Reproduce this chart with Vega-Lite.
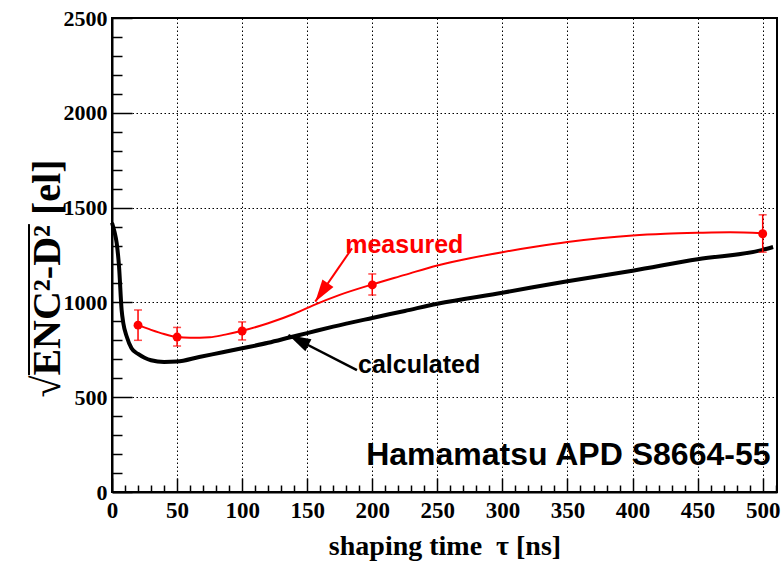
{
  "$schema": "https://vega.github.io/schema/vega-lite/v6.json",
  "width": 665,
  "height": 474,
  "autosize": {"type": "none"},
  "padding": {"left": 112, "top": 18, "right": 6, "bottom": 70},
  "background": "white",
  "config": {
    "view": {"stroke": "black", "strokeWidth": 2},
    "axis": {"labelFont": "Liberation Serif", "labelFontWeight": "bold", "labelColor": "black", "titleFont": "Liberation Serif", "titleFontWeight": "bold", "titleColor": "black", "domainColor": "black", "tickColor": "black", "labelFlush": false}
  },
  "datasets": {
    "calc": [
      {"t": 0, "v": 1420}, {"t": 2, "v": 1370}, {"t": 3.6, "v": 1313}, {"t": 5.4, "v": 1190}, {"t": 7.4, "v": 960},
      {"t": 8.7, "v": 890}, {"t": 11.3, "v": 820}, {"t": 15, "v": 758}, {"t": 20, "v": 728}, {"t": 25, "v": 708},
      {"t": 30, "v": 695}, {"t": 40, "v": 686}, {"t": 50, "v": 688}, {"t": 67, "v": 712}, {"t": 85, "v": 737},
      {"t": 100, "v": 758}, {"t": 120, "v": 787}, {"t": 137, "v": 816}, {"t": 150, "v": 838}, {"t": 170, "v": 872},
      {"t": 200, "v": 918}, {"t": 225, "v": 955}, {"t": 250, "v": 993}, {"t": 300, "v": 1051}, {"t": 350, "v": 1112},
      {"t": 400, "v": 1167}, {"t": 450, "v": 1228}, {"t": 500, "v": 1277}, {"t": 508, "v": 1292}
    ],
    "measline": [
      {"t": 20, "v": 880}, {"t": 30, "v": 855}, {"t": 40, "v": 833}, {"t": 50, "v": 817}, {"t": 60, "v": 813},
      {"t": 75, "v": 816}, {"t": 87, "v": 830}, {"t": 100, "v": 850}, {"t": 120, "v": 890}, {"t": 140, "v": 940},
      {"t": 155, "v": 986}, {"t": 175, "v": 1040}, {"t": 200, "v": 1095}, {"t": 225, "v": 1145}, {"t": 250, "v": 1195},
      {"t": 275, "v": 1233}, {"t": 300, "v": 1265}, {"t": 325, "v": 1293}, {"t": 350, "v": 1318}, {"t": 375, "v": 1338},
      {"t": 400, "v": 1353}, {"t": 425, "v": 1362}, {"t": 450, "v": 1367}, {"t": 475, "v": 1370}, {"t": 500, "v": 1365}
    ],
    "meas": [
      {"t": 20, "v": 880, "lo": 800, "hi": 960},
      {"t": 50, "v": 817, "lo": 770, "hi": 868},
      {"t": 100, "v": 849, "lo": 802, "hi": 897},
      {"t": 200, "v": 1092, "lo": 1039, "hi": 1150},
      {"t": 500, "v": 1362, "lo": 1265, "hi": 1462}
    ],
    "arrowM": [{"t": 184.4, "v": 1285, "t2": 156.2, "v2": 1004}],
    "arrowC": [{"t": 188.2, "v": 643, "t2": 135.6, "v2": 828}],
    "overline": [{"t": -63.8, "v": 617, "v2": 1413}],
    "labM": [{"t": 224.6, "v": 1262, "text": "measured"}],
    "labC": [{"t": 236, "v": 630, "text": "calculated"}],
    "labH": [{"t": 506, "v": 142, "text": "Hamamatsu APD S8664-55"}]
  },
  "resolve": {"axis": {"x": "independent", "y": "independent"}},
  "layer": [
    {
      "data": {"name": "calc"},
      "mark": {"type": "line", "color": "black", "strokeWidth": 4, "interpolate": "monotone"},
      "encoding": {
        "x": {"field": "t", "type": "quantitative", "scale": {"domain": [0, 511], "nice": false, "zero": false},
          "axis": {"orient": "bottom", "values": [0, 50, 100, 150, 200, 250, 300, 350, 400, 450, 500], "format": "d", "tickSize": -14, "tickWidth": 1.5, "domainWidth": 2, "labelFontSize": 23, "labelPadding": 21, "grid": true, "gridColor": "black", "gridDash": [1.5, 2.5], "gridWidth": 1, "gridOpacity": 1, "title": "shaping time\u00a0\u00a0τ [ns]", "titleFontSize": 28, "titlePadding": 10}},
        "y": {"field": "v", "type": "quantitative", "scale": {"domain": [0, 2500], "nice": false, "zero": false},
          "axis": {"orient": "left", "values": [0, 500, 1000, 1500, 2000, 2500], "format": "d", "tickSize": -20, "tickWidth": 1.5, "domainWidth": 2, "labelFontSize": 22, "labelPadding": 25, "labelBaseline": "middle", "grid": true, "gridColor": "black", "gridDash": [1.5, 2.5], "gridWidth": 1, "gridOpacity": 1, "title": "√ENC²-D² [el]", "titleFontSize": 40, "titleAngle": -90, "titleX": -53, "titleY": 260, "titleAlign": "center", "titleBaseline": "alphabetic"}}
      }
    },
    {
      "data": {"name": "measline"},
      "mark": {"type": "line", "color": "#ff0000", "strokeWidth": 2, "interpolate": "monotone"},
      "encoding": {
        "x": {"field": "t", "type": "quantitative",
          "axis": {"orient": "bottom", "values": [10, 20, 30, 40, 60, 70, 80, 90, 110, 120, 130, 140, 160, 170, 180, 190, 210, 220, 230, 240, 260, 270, 280, 290, 310, 320, 330, 340, 360, 370, 380, 390, 410, 420, 430, 440, 460, 470, 480, 490, 510], "tickSize": -7, "tickWidth": 1.5, "labels": false, "domain": false, "grid": false, "title": null}},
        "y": {"field": "v", "type": "quantitative",
          "axis": {"orient": "left", "values": [100, 200, 300, 400, 600, 700, 800, 900, 1100, 1200, 1300, 1400, 1600, 1700, 1800, 1900, 2100, 2200, 2300, 2400], "tickSize": -10, "tickWidth": 1.5, "labels": false, "domain": false, "grid": false, "title": null}}
      }
    },
    {
      "data": {"name": "overline"},
      "mark": {"type": "rule", "color": "black", "strokeWidth": 2, "clip": false},
      "encoding": {
        "x": {"field": "t", "type": "quantitative", "axis": null},
        "y": {"field": "v", "type": "quantitative", "axis": null},
        "y2": {"field": "v2"}
      }
    },
    {
      "data": {"name": "meas"},
      "mark": {"type": "rule", "color": "#ff0000", "strokeWidth": 1.5},
      "encoding": {
        "x": {"field": "t", "type": "quantitative", "axis": null},
        "y": {"field": "lo", "type": "quantitative", "axis": null},
        "y2": {"field": "hi"}
      }
    },
    {
      "data": {"name": "meas"},
      "mark": {"type": "tick", "color": "#ff0000", "orient": "horizontal", "size": 8, "thickness": 1.5},
      "encoding": {
        "x": {"field": "t", "type": "quantitative", "axis": null},
        "y": {"field": "lo", "type": "quantitative", "axis": null}
      }
    },
    {
      "data": {"name": "meas"},
      "mark": {"type": "tick", "color": "#ff0000", "orient": "horizontal", "size": 8, "thickness": 1.5},
      "encoding": {
        "x": {"field": "t", "type": "quantitative", "axis": null},
        "y": {"field": "hi", "type": "quantitative", "axis": null}
      }
    },
    {
      "data": {"name": "meas"},
      "mark": {"type": "point", "shape": "circle", "filled": true, "color": "#ff0000", "size": 80, "opacity": 1},
      "encoding": {
        "x": {"field": "t", "type": "quantitative", "axis": null},
        "y": {"field": "v", "type": "quantitative", "axis": null}
      }
    },
    {
      "data": {"name": "arrowM"},
      "mark": {"type": "rule", "color": "#ff0000", "strokeWidth": 2},
      "encoding": {
        "x": {"field": "t", "type": "quantitative", "axis": null},
        "y": {"field": "v", "type": "quantitative", "axis": null},
        "x2": {"field": "t2"},
        "y2": {"field": "v2"}
      }
    },
    {
      "data": {"name": "arrowM"},
      "mark": {"type": "point", "shape": "M0,0 L0.3,1 L-0.3,1 Z", "filled": true, "color": "#ff0000", "size": 2000, "opacity": 1, "angle": 214.5},
      "encoding": {
        "x": {"field": "t2", "type": "quantitative", "axis": null},
        "y": {"field": "v2", "type": "quantitative", "axis": null}
      }
    },
    {
      "data": {"name": "arrowC"},
      "mark": {"type": "rule", "color": "black", "strokeWidth": 2.5},
      "encoding": {
        "x": {"field": "t", "type": "quantitative", "axis": null},
        "y": {"field": "v", "type": "quantitative", "axis": null},
        "x2": {"field": "t2"},
        "y2": {"field": "v2"}
      }
    },
    {
      "data": {"name": "arrowC"},
      "mark": {"type": "point", "shape": "M0,0 L0.3,1 L-0.3,1 Z", "filled": true, "color": "black", "size": 2000, "opacity": 1, "angle": 297},
      "encoding": {
        "x": {"field": "t2", "type": "quantitative", "axis": null},
        "y": {"field": "v2", "type": "quantitative", "axis": null}
      }
    },
    {
      "data": {"name": "labM"},
      "mark": {"type": "text", "color": "#ff0000", "font": "Liberation Sans", "fontWeight": "bold", "fontSize": 25, "align": "center", "baseline": "alphabetic"},
      "encoding": {
        "x": {"field": "t", "type": "quantitative", "axis": null},
        "y": {"field": "v", "type": "quantitative", "axis": null},
        "text": {"field": "text"}
      }
    },
    {
      "data": {"name": "labC"},
      "mark": {"type": "text", "color": "black", "font": "Liberation Sans", "fontWeight": "bold", "fontSize": 25, "align": "center", "baseline": "alphabetic"},
      "encoding": {
        "x": {"field": "t", "type": "quantitative", "axis": null},
        "y": {"field": "v", "type": "quantitative", "axis": null},
        "text": {"field": "text"}
      }
    },
    {
      "data": {"name": "labH"},
      "mark": {"type": "text", "color": "black", "font": "Liberation Sans", "fontWeight": "bold", "fontSize": 32, "align": "right", "baseline": "alphabetic"},
      "encoding": {
        "x": {"field": "t", "type": "quantitative", "axis": null},
        "y": {"field": "v", "type": "quantitative", "axis": null},
        "text": {"field": "text"}
      }
    }
  ]
}
